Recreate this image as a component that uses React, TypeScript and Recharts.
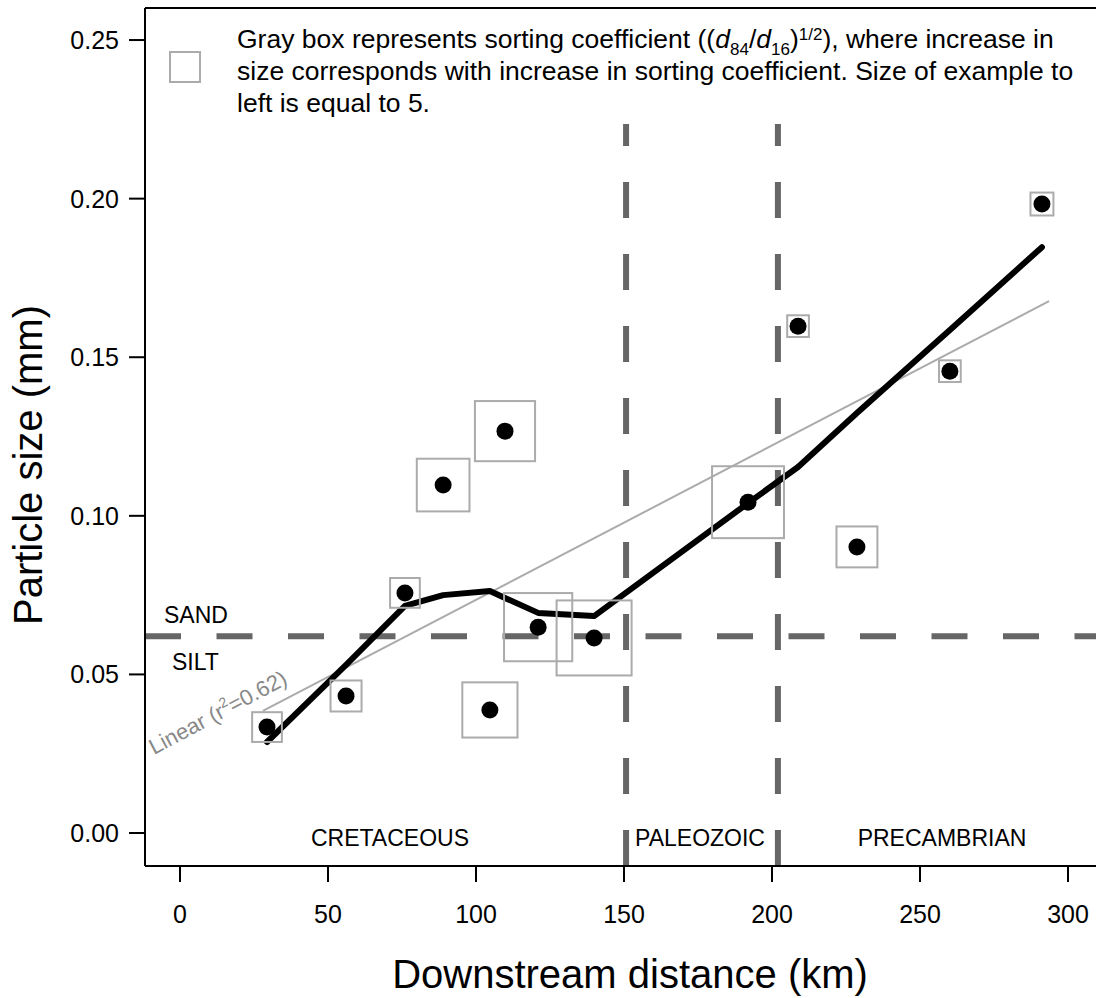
import { ComposedChart, Line, ReferenceLine, Scatter, XAxis, YAxis } from 'recharts'

// sample sites along the river
const distanceKm = [29.4, 56.1, 76.0, 88.9, 104.7, 109.8, 121.0, 139.9, 191.9, 208.8, 228.7, 260.1, 291.2]
const particleSizeMm = [0.0334, 0.0432, 0.0757, 0.1097, 0.0388, 0.1267, 0.0649, 0.0615, 0.1043, 0.1598, 0.0902, 0.1456, 0.1983]
const sortingCoef = [4.8, 5.0, 4.8, 8.5, 8.9, 9.7, 11.0, 12.1, 11.6, 3.5, 6.6, 3.5, 3.7]

// smoothed trend, read at each site
const trendMm = [0.0287, 0.053, 0.0716, 0.075, 0.0763, 0.0741, 0.0694, 0.0684, 0.104, 0.1154, 0.1324, 0.1586, 0.1847]

// linear fit end points
const fitKm = [28.0, 293.6]
const fitMm = [0.0385, 0.1677]

const eraBoundaryKm = [150.7, 202.0]
const eraBoundaryTop = 0.2235
const sandSiltMm = 0.062

const xTicks = [0, 50, 100, 150, 200, 250, 300]
const yTicks = [0, 0.05, 0.1, 0.15, 0.2, 0.25]

const X_DOMAIN: [number, number] = [-11.82, 309.46]
const Y_DOMAIN: [number, number] = [-0.0104, 0.2601]

const BOX_PX = 6.2 // px per unit of sorting coefficient (legend box = 5)

const FONT = '"Liberation Sans", Arial, sans-serif'

const points = distanceKm.map((x, i) => ({ x, y: particleSizeMm[i], sort: sortingCoef[i] }))
const trend = distanceKm.map((x, i) => ({ x, y: trendMm[i] }))
const fit = fitKm.map((x, i) => ({ x, y: fitMm[i] }))

const BoxShape = (props: any) => {
  const { cx, cy, payload } = props
  const s = payload.sort * BOX_PX
  return <rect x={cx - s / 2} y={cy - s / 2} width={s} height={s} fill="none" stroke="#ababab" strokeWidth={2} />
}

const DotShape = (props: any) => <circle cx={props.cx} cy={props.cy} r={8.5} fill="#000" />

const tickStyle = { fontSize: 25, fill: '#000', fontFamily: FONT }

export default function App() {
  return (
    <div style={{ position: 'absolute', left: 0, top: 0, width: 1096, height: 998, background: '#fff' }}>
      <ComposedChart width={1096} height={998} margin={{ top: 8, right: 0, bottom: 32, left: 45 }}>
        <XAxis
          type="number"
          dataKey="x"
          domain={X_DOMAIN}
          allowDataOverflow
          ticks={xTicks}
          tickSize={16}
          tickMargin={23}
          height={100}
          tick={tickStyle}
          axisLine={{ stroke: '#000', strokeWidth: 2 }}
          tickLine={{ stroke: '#000', strokeWidth: 2 }}
        />
        <YAxis
          type="number"
          dataKey="y"
          domain={Y_DOMAIN}
          allowDataOverflow
          ticks={yTicks}
          tickFormatter={(v: number) => v.toFixed(2)}
          tickSize={16}
          tickMargin={10}
          width={100}
          tick={tickStyle}
          axisLine={{ stroke: '#000', strokeWidth: 2 }}
          tickLine={{ stroke: '#000', strokeWidth: 2 }}
        />
        <ReferenceLine y={Y_DOMAIN[1]} stroke="#000" strokeWidth={2} />
        <ReferenceLine y={sandSiltMm} stroke="#666" strokeWidth={6} strokeDasharray="36 35.5" />
        {eraBoundaryKm.map((b) => (
          <ReferenceLine
            key={b}
            segment={[
              { x: b, y: Y_DOMAIN[0] },
              { x: b, y: eraBoundaryTop },
            ]}
            stroke="#666"
            strokeWidth={6}
            strokeDasharray="36 36"
          />
        ))}
        <Line data={fit} dataKey="y" type="linear" stroke="#ababab" strokeWidth={2} dot={false} activeDot={false} isAnimationActive={false} />
        <Scatter data={points} dataKey="y" shape={BoxShape} isAnimationActive={false} />
        <Line
          data={trend}
          dataKey="y"
          type="linear"
          stroke="#000"
          strokeWidth={6}
          strokeLinejoin="round"
          strokeLinecap="round"
          dot={false}
          activeDot={false}
          isAnimationActive={false}
        />
        <Scatter data={points} dataKey="y" shape={DotShape} isAnimationActive={false} />
      </ComposedChart>

      <svg width={1096} height={998} style={{ position: 'absolute', left: 0, top: 0, pointerEvents: 'none' }} fontFamily={FONT}>
        {/* legend */}
        <rect x={170} y={52} width={30} height={30} fill="none" stroke="#ababab" strokeWidth={2} />
        <text x={237} y={48} fontSize={26.5} fill="#000">
          Gray box represents sorting coefficient ((<tspan fontStyle="italic">d</tspan>
          <tspan fontSize={17} dy={7}>84</tspan>
          <tspan dy={-7}>/</tspan>
          <tspan fontStyle="italic">d</tspan>
          <tspan fontSize={17} dy={7}>16</tspan>
          <tspan dy={-7}>)</tspan>
          <tspan fontSize={17} dy={-8}>1/2</tspan>
          <tspan dy={8}>), where increase in</tspan>
        </text>
        <text x={237} y={80} fontSize={26.5} fill="#000">
          size corresponds with increase in sorting coefficient. Size of example to
        </text>
        <text x={237} y={112} fontSize={26.5} fill="#000">
          left is equal to 5.
        </text>

        <text x={164} y={623} fontSize={23} fill="#000">SAND</text>
        <text x={172} y={670} fontSize={23} fill="#000">SILT</text>

        <text x={154} y={755} fontSize={22} fill="#888" transform="rotate(-28 154 755)">
          Linear (r<tspan fontSize={14} dy={-9}>2</tspan>
          <tspan dy={9}>=0.62)</tspan>
        </text>

        <text x={390} y={846} fontSize={23} textAnchor="middle" fill="#000">CRETACEOUS</text>
        <text x={700} y={846} fontSize={23} textAnchor="middle" fill="#000">PALEOZOIC</text>
        <text x={942} y={846} fontSize={23} textAnchor="middle" fill="#000">PRECAMBRIAN</text>

        <text x={630} y={988} fontSize={40} textAnchor="middle" fill="#000">Downstream distance (km)</text>
        <text x={42} y={465} fontSize={40} textAnchor="middle" fill="#000" transform="rotate(-90 42 465)">
          Particle size (mm)
        </text>
      </svg>
    </div>
  )
}
